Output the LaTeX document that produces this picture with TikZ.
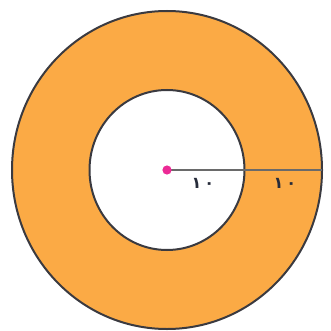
\documentclass[tikz,border=0pt]{standalone}
\usepackage{fontspec}
\newfontfamily\arabicfont[Script=Arabic]{DejaVu Sans}
\definecolor{ringfill}{HTML}{FBAA45}
\definecolor{edge}{HTML}{3A3A40}
\definecolor{radline}{HTML}{6A6A6A}
\definecolor{dotpink}{HTML}{EC2A96}
\definecolor{labink}{HTML}{262B3A}
\begin{document}
\begin{tikzpicture}[x=1pt,y=-1pt,
  ring/.style={draw=edge,line width=2pt,fill=ringfill},
  hole/.style={draw=edge,line width=2pt,fill=white},
  radius line/.style={draw=radline,line width=1.3pt},
  lab/.style={font=\arabicfont\bfseries\fontsize{16}{18}\selectfont,text=labink,inner sep=0pt}]
\useasboundingbox (0,0) rectangle (330,331);
\coordinate (c) at (167,170);
\draw[ring] (c) ellipse [x radius=155, y radius=159];
\draw[hole] (c) ellipse [x radius=77.5, y radius=80];
\coordinate (e) at (322,170);
\draw[radius line] (c) -- (e);
\fill[dotpink] (c) circle (4.6);
\node[lab] (l1) at (203,183) {١\kern3pt٠};
\node[lab] (l2) at (285,183) {١\kern3pt٠};
\end{tikzpicture}
\end{document}
